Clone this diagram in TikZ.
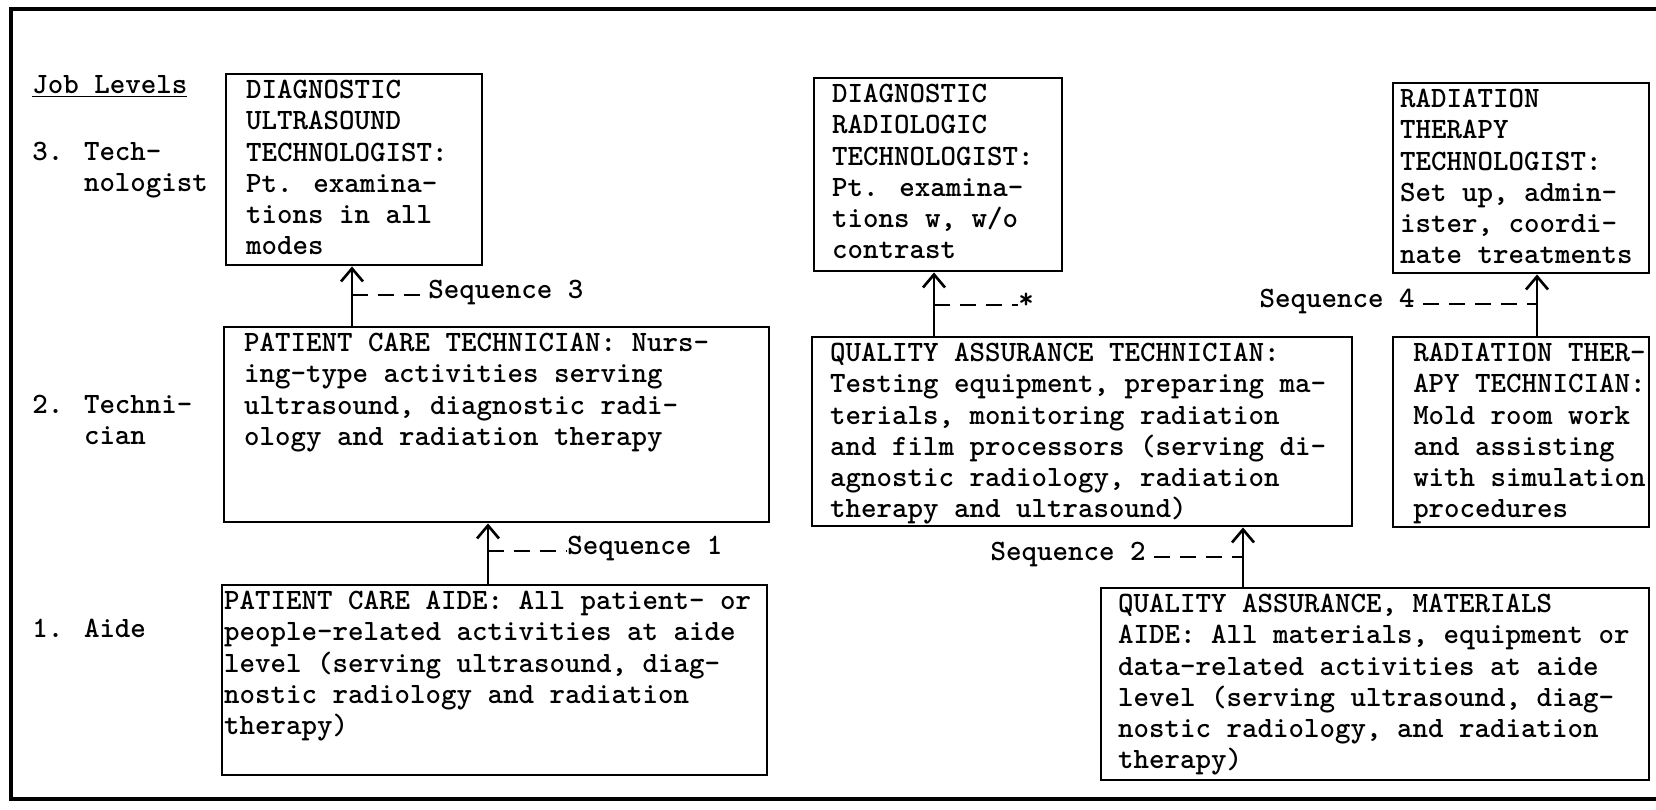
\documentclass[tikz,border=0pt]{standalone}
\usepackage{fontspec}
\usetikzlibrary{arrows.meta}

% one drawing unit is one pixel of the page
\newlength{\unitpx}
\setlength{\unitpx}{0.02cm}

% typewriter text used everywhere
\newcommand{\typed}{\fontsize{16.8}{17.8}\selectfont\ttfamily\bfseries}

% top aligned text block: width, height, left pad, lines
% (lines are broken by hand, so they may run up to the border)
\newcommand{\jobtext}[4]{\parbox[t][#2\unitpx][t]{#1\unitpx}{\leftskip=#3\unitpx\rightskip=-3cm\relax#4}}

\tikzset{
  jobbox/.style={draw, line width=1.4pt, anchor=north west, inner xsep=0pt, inner ysep=0.12cm, font=\typed},
  levelname/.style={anchor=north west, align=left, inner sep=0pt, font=\typed},
  seqlabel/.style={inner sep=0pt, font=\typed},
  upline/.style={line width=1.5pt, -{Straight Barb[length=0.26cm, width=0.44cm]}},
  seqdash/.style={line width=1.3pt, dash pattern=on 0.32cm off 0.2cm},
}

\begin{document}
\begin{tikzpicture}[x=0.02cm, y=-0.02cm]
    \useasboundingbox (0,0) rectangle (1656,810);
    \clip (0,0) rectangle (1656,810);

    % outer frame, open to the right
    \draw[line width=2pt] (1700,9) -- (11,9) -- (11,799) -- (1700,799);

    % job levels down the left side
    \node[levelname] (joblevels) at (32,75.5) {\underline{Job Levels}};
    \node[levelname] (lvl3) at (32,141.5) {3. Tech-\\\phantom{3. }nologist};
    \node[levelname] (lvl2) at (32,394.5) {2. Techni-\\\phantom{2. }cian};
    \node[levelname] (lvl1) at (32,618.5) {1. Aide};

    % technologists
    \node[jobbox] (ultra) at (225,73) {\jobtext{256}{179}{20}{DIAGNOSTIC\\ULTRASOUND\\TECHNOLOGIST:\\Pt. examina-\\tions in all\\modes}};
    \node[jobbox] (radio) at (813,77) {\jobtext{248}{181}{18}{DIAGNOSTIC\\RADIOLOGIC\\TECHNOLOGIST:\\Pt. examina-\\tions w, w/o\\contrast}};
    \node[jobbox] (rtt) at (1392,82) {\jobtext{256}{178}{7}{RADIATION\\THERAPY\\TECHNOLOGIST:\\Set up, admin-\\ister, coordi-\\nate treatments}};

    % technicians
    \node[jobbox] (pct) at (223,326) {\jobtext{545}{183}{20}{PATIENT CARE TECHNICIAN: Nurs-\\ing-type activities serving\\ultrasound, diagnostic radi-\\ology and radiation therapy}};
    \node[jobbox] (qat) at (811,336) {\jobtext{540}{177}{18}{QUALITY ASSURANCE TECHNICIAN:\\Testing equipment, preparing ma-\\terials, monitoring radiation\\and film processors (serving di-\\agnostic radiology, radiation\\therapy and ultrasound)}};
    \node[jobbox] (rttech) at (1392,336) {\jobtext{256}{178}{20}{RADIATION THER-\\APY TECHNICIAN:\\Mold room work\\and assisting\\with simulation\\procedures}};

    % aides
    \node[jobbox] (pca) at (221,584) {\jobtext{545}{178}{2}{PATIENT CARE AIDE: All patient- or\\people-related activities at aide\\level (serving ultrasound, diag-\\nostic radiology and radiation\\therapy)}};
    \node[jobbox] (qama) at (1100,587) {\jobtext{548}{180}{17}{QUALITY ASSURANCE, MATERIALS\\AIDE: All materials, equipment or\\data-related activities at aide\\level (serving ultrasound, diag-\\nostic radiology, and radiation\\therapy)}};

    % where the upward arrows run
    \coordinate (seq1) at (488,0);
    \coordinate (seq2) at (1243,0);
    \coordinate (seq3) at (352,0);
    \coordinate (seq4) at (1537,0);
    \coordinate (seqx) at (934,0);

    \draw[upline] (seq3 |- pct.north) -- (seq3 |- ultra.south);
    \draw[upline] (seq1 |- pca.north) -- (seq1 |- pct.south);
    \draw[upline] (seqx |- qat.north) -- (seqx |- radio.south);
    \draw[upline] (seq4 |- rttech.north) -- (seq4 |- rtt.south);
    \draw[upline] (seq2 |- qama.north) -- (seq2 |- qat.south);

    % sequence labels hung off the arrows
    \node[seqlabel, anchor=mid west] (lab3) at (428,295) {Sequence 3};
    \node[seqlabel, anchor=mid west] (lab1) at (567,551) {Sequence 1};
    \node[seqlabel, anchor=mid west] (labx) at (1018,305) {*};
    \node[seqlabel, anchor=mid east] (lab4) at (1415,304) {Sequence 4};
    \node[seqlabel, anchor=mid east] (lab2) at (1146,557) {Sequence 2};

    \draw[seqdash] (seq3 |- lab3.mid west) -- (lab3.mid west);
    \draw[seqdash] (seq1 |- lab1.mid west) -- (lab1.mid west);
    \draw[seqdash] (seqx |- labx.mid west) -- (labx.mid west);
    \draw[seqdash, shorten <=0.16cm] (lab4.mid east) -- (seq4 |- lab4.mid east);
    \draw[seqdash, shorten <=0.16cm] (lab2.mid east) -- (seq2 |- lab2.mid east);

\end{tikzpicture}
\end{document}
